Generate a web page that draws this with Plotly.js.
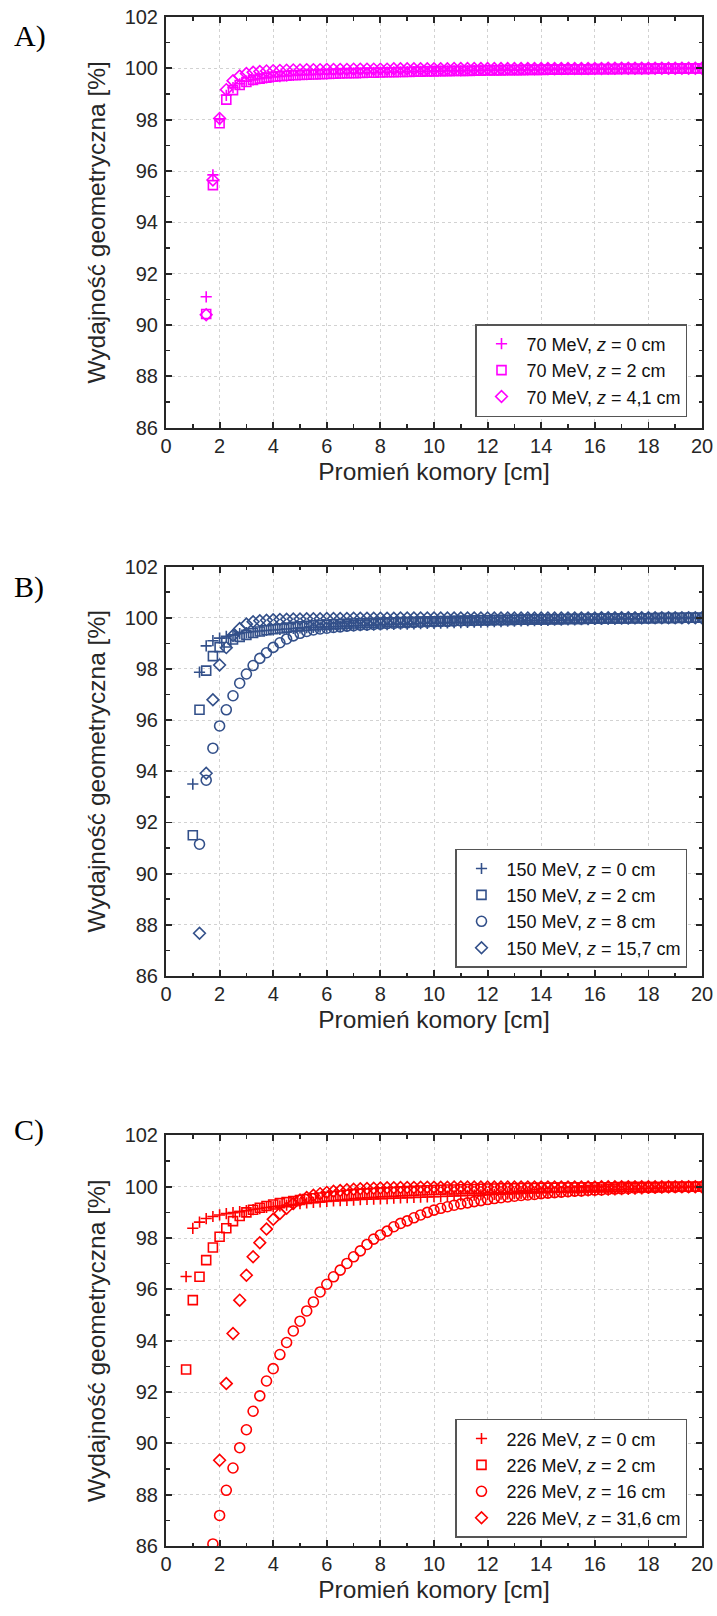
<!DOCTYPE html>
<html>
<head>
<meta charset="utf-8">
<script src="https://cdn.plot.ly/plotly-3.0.1.min.js"></script>
<style>html,body{margin:0;padding:0;background:#fff}#chart{width:717px;height:1616px}</style>
</head>
<body>
<div id="chart"></div>
<script>
// Promień komory [cm] – common sampling grid
const radius = [
  0.75,1,1.25,1.5,1.75,2,2.25,2.5,2.75,3,
  3.25,3.5,3.75,4,4.25,4.5,4.75,5,5.25,5.5,
  5.75,6,6.25,6.5,6.75,7,7.25,7.5,7.75,8,
  8.25,8.5,8.75,9,9.25,9.5,9.75,10,10.25,10.5,
  10.75,11,11.25,11.5,11.75,12,12.25,12.5,12.75,13,
  13.25,13.5,13.75,14,14.25,14.5,14.75,15,15.25,15.5,
  15.75,16,16.25,16.5,16.75,17,17.25,17.5,17.75,18,
  18.25,18.5,18.75,19,19.25,19.5,19.75,20
];

// Panel A – 70 MeV
const e70_z0 = [
  null,null,null,91.1,95.85,98.0,98.95,99.25,99.4,99.5,
  99.55,99.6,99.63,99.66,99.68,99.7,99.72,99.74,99.75,99.76,
  99.77,99.78,99.79,99.8,99.81,99.82,99.82,99.83,99.84,99.85,
  99.85,99.86,99.86,99.87,99.87,99.88,99.88,99.89,99.89,99.9,
  99.9,99.9,99.91,99.91,99.92,99.92,99.92,99.93,99.93,99.93,
  99.94,99.94,99.94,99.95,99.95,99.95,99.96,99.96,99.96,99.96,
  99.97,99.97,99.97,99.97,99.98,99.98,99.98,99.98,99.98,99.99,
  99.99,99.99,99.99,99.99,100,100,100,100
];
const e70_z2 = [
  null,null,null,90.43,95.45,97.86,98.78,99.15,99.35,99.47,
  99.55,99.6,99.64,99.67,99.69,99.71,99.73,99.74,99.75,99.76,
  99.77,99.78,99.79,99.8,99.81,99.81,99.82,99.83,99.83,99.84,
  99.85,99.85,99.86,99.86,99.87,99.87,99.88,99.88,99.89,99.89,
  99.9,99.9,99.9,99.91,99.91,99.92,99.92,99.92,99.93,99.93,
  99.93,99.94,99.94,99.94,99.95,99.95,99.95,99.96,99.96,99.96,
  99.96,99.97,99.97,99.97,99.97,99.98,99.98,99.98,99.98,99.98,
  99.99,99.99,99.99,99.99,99.99,100,100,100
];
const e70_z41 = [
  null,null,null,90.4,95.65,98.05,99.17,99.52,99.7,99.8,
  99.85,99.88,99.9,99.91,99.92,99.93,99.94,99.94,99.95,99.95,
  99.95,99.96,99.96,99.96,99.96,99.97,99.97,99.97,99.97,99.97,
  99.97,99.98,99.98,99.98,99.98,99.98,99.98,99.98,99.98,99.98,
  99.99,99.99,99.99,99.99,99.99,99.99,99.99,99.99,99.99,99.99,
  99.99,99.99,99.99,99.99,99.99,99.99,99.99,99.99,99.99,99.99,
  99.99,99.99,99.99,100,100,100,100,100,100,100,
  100,100,100,100,100,100,100,100
];

// Panel B – 150 MeV
const e150_z0 = [
  null,93.5,97.87,98.9,99.1,99.2,99.27,99.33,99.38,99.42,
  99.45,99.48,99.5,99.52,99.54,99.56,99.58,99.6,99.61,99.62,
  99.63,99.64,99.65,99.66,99.67,99.68,99.69,99.7,99.71,99.72,
  99.73,99.74,99.75,99.75,99.76,99.77,99.78,99.78,99.79,99.8,
  99.81,99.81,99.82,99.83,99.83,99.84,99.85,99.85,99.86,99.86,
  99.87,99.88,99.88,99.89,99.89,99.9,99.9,99.91,99.91,99.92,
  99.92,99.93,99.93,99.94,99.94,99.95,99.95,99.96,99.96,99.97,
  99.97,99.98,99.98,99.99,99.99,100,100,100
];
const e150_z2 = [
  null,91.5,96.4,97.93,98.5,98.85,99.03,99.15,99.25,99.33,
  99.4,99.46,99.51,99.55,99.58,99.61,99.64,99.66,99.68,99.7,
  99.72,99.73,99.74,99.75,99.76,99.77,99.78,99.79,99.8,99.81,
  99.82,99.82,99.83,99.84,99.84,99.85,99.86,99.86,99.87,99.87,
  99.88,99.88,99.89,99.89,99.9,99.9,99.91,99.91,99.91,99.92,
  99.92,99.93,99.93,99.93,99.94,99.94,99.94,99.95,99.95,99.95,
  99.96,99.96,99.96,99.97,99.97,99.97,99.98,99.98,99.98,99.98,
  99.99,99.99,99.99,99.99,100,100,100,100
];
const e150_z8 = [
  null,null,91.15,93.65,94.9,95.77,96.4,96.95,97.44,97.8,
  98.13,98.41,98.63,98.84,99.02,99.17,99.29,99.39,99.46,99.52,
  99.56,99.59,99.62,99.64,99.67,99.69,99.71,99.72,99.74,99.75,
  99.77,99.78,99.79,99.8,99.81,99.82,99.83,99.84,99.85,99.85,
  99.86,99.87,99.87,99.88,99.89,99.89,99.9,99.9,99.91,99.91,
  99.92,99.92,99.93,99.93,99.93,99.94,99.94,99.95,99.95,99.95,
  99.96,99.96,99.96,99.97,99.97,99.97,99.97,99.98,99.98,99.98,
  99.98,99.99,99.99,99.99,99.99,100,100,100
];
const e150_z157 = [
  null,null,87.67,93.92,96.79,98.15,98.83,99.3,99.58,99.75,
  99.84,99.88,99.9,99.92,99.93,99.94,99.95,99.95,99.96,99.96,
  99.96,99.97,99.97,99.97,99.97,99.98,99.98,99.98,99.98,99.98,
  99.98,99.98,99.99,99.99,99.99,99.99,99.99,99.99,99.99,99.99,
  99.99,99.99,99.99,99.99,99.99,99.99,99.99,99.99,99.99,99.99,
  99.99,99.99,99.99,99.99,99.99,99.99,99.99,99.99,99.99,99.99,
  99.99,99.99,100,100,100,100,100,100,100,100,
  100,100,100,100,100,100,100,100
];

// Panel C – 226 MeV
const e226_z0 = [
  96.5,98.38,98.62,98.76,98.84,98.9,98.95,98.99,99.03,99.07,
  99.11,99.15,99.19,99.22,99.25,99.28,99.31,99.34,99.37,99.39,
  99.41,99.43,99.45,99.46,99.47,99.48,99.5,99.51,99.52,99.53,
  99.54,99.55,99.56,99.57,99.58,99.59,99.6,99.61,99.62,99.63,
  99.64,99.65,99.66,99.67,99.68,99.69,99.7,99.71,99.72,99.73,
  99.74,99.75,99.76,99.77,99.78,99.79,99.8,99.81,99.82,99.83,
  99.84,99.85,99.86,99.87,99.88,99.89,99.9,99.91,99.92,99.93,
  99.94,99.95,99.96,99.97,99.98,99.99,100,100
];
const e226_z2 = [
  92.88,95.58,96.49,97.14,97.63,98.05,98.38,98.66,98.86,99.0,
  99.1,99.18,99.25,99.31,99.36,99.4,99.44,99.48,99.52,99.55,
  99.58,99.61,99.64,99.66,99.69,99.71,99.73,99.74,99.76,99.78,
  99.79,99.8,99.82,99.83,99.84,99.85,99.86,99.87,99.88,99.89,
  99.89,99.9,99.91,99.91,99.92,99.93,99.93,99.94,99.94,99.94,
  99.95,99.95,99.95,99.96,99.96,99.96,99.97,99.97,99.97,99.97,
  99.98,99.98,99.98,99.98,99.98,99.99,99.99,99.99,99.99,99.99,
  99.99,99.99,100,100,100,100,100,100
];
const e226_z16 = [
  null,null,null,null,86.08,87.19,88.17,89.04,89.83,90.53,
  91.25,91.85,92.43,92.91,93.46,93.93,94.38,94.76,95.16,95.51,
  95.9,96.2,96.49,96.75,97.01,97.27,97.5,97.75,97.96,98.12,
  98.27,98.44,98.57,98.67,98.79,98.9,99.0,99.09,99.16,99.22,
  99.28,99.33,99.37,99.42,99.46,99.5,99.54,99.57,99.6,99.63,
  99.66,99.68,99.7,99.73,99.75,99.77,99.79,99.81,99.83,99.84,
  99.86,99.87,99.88,99.9,99.91,99.92,99.93,99.94,99.95,99.96,
  99.96,99.97,99.98,99.98,99.99,99.99,100,100
];
const e226_z316 = [
  null,null,null,null,null,89.34,92.33,94.28,95.58,96.55,
  97.27,97.82,98.35,98.73,98.96,99.16,99.35,99.48,99.58,99.67,
  99.73,99.78,99.82,99.85,99.88,99.9,99.92,99.93,99.94,99.95,
  99.96,99.96,99.97,99.97,99.97,99.98,99.98,99.98,99.98,99.98,
  99.99,99.99,99.99,99.99,99.99,99.99,99.99,99.99,99.99,99.99,
  99.99,99.99,99.99,99.99,99.99,99.99,99.99,99.99,99.99,99.99,
  99.99,99.99,100,100,100,100,100,100,100,100,
  100,100,100,100,100,100,100,100
];

const xTickVals = [0,2,4,6,8,10,12,14,16,18,20];
const yTickVals = [86,88,90,92,94,96,98,100,102];
const xAxisTitle = 'Promień komory [cm]';
const yAxisTitle = 'Wydajność geometryczna [%]';
const panelLabels = ['A)', 'B)', 'C)'];

const MAGENTA = '#ff00ff', NAVY = '#33508a', RED = '#ff0000';
const SYM = {plus: 'cross-thin-open', square: 'square-open', circle: 'circle-open', diamond: 'diamond-open'};
const SIZE = {plus: 8, square: 9, circle: 10, diamond: 9};

function tr(y, name, color, sym, axis, legend) {
  return {
    x: radius, y: y, name: name, type: 'scatter', mode: 'markers',
    xaxis: 'x' + axis, yaxis: 'y' + axis, legend: legend,
    marker: {symbol: SYM[sym], size: SIZE[sym], color: color, line: {color: color, width: 1.6}}
  };
}

const data = [
  tr(e70_z0, '70 MeV, <i>z</i> = 0 cm', MAGENTA, 'plus', '', 'legend'),
  tr(e70_z2, '70 MeV, <i>z</i> = 2 cm', MAGENTA, 'square', '', 'legend'),
  tr(e70_z41, '70 MeV, <i>z</i> = 4,1 cm', MAGENTA, 'diamond', '', 'legend'),
  tr(e150_z0, '150 MeV, <i>z</i> = 0 cm', NAVY, 'plus', '2', 'legend2'),
  tr(e150_z2, '150 MeV, <i>z</i> = 2 cm', NAVY, 'square', '2', 'legend2'),
  tr(e150_z8, '150 MeV, <i>z</i> = 8 cm', NAVY, 'circle', '2', 'legend2'),
  tr(e150_z157, '150 MeV, <i>z</i> = 15,7 cm', NAVY, 'diamond', '2', 'legend2'),
  tr(e226_z0, '226 MeV, <i>z</i> = 0 cm', RED, 'plus', '3', 'legend3'),
  tr(e226_z2, '226 MeV, <i>z</i> = 2 cm', RED, 'square', '3', 'legend3'),
  tr(e226_z16, '226 MeV, <i>z</i> = 16 cm', RED, 'circle', '3', 'legend3'),
  tr(e226_z316, '226 MeV, <i>z</i> = 31,6 cm', RED, 'diamond', '3', 'legend3')
];

const W = 717, H = 1616, ML = 166, MR = 15, MT = 17, MB = 70;
const PH = H - MT - MB, PW = W - ML - MR;
const py = v => 1 - (v - MT) / PH;
const px = v => (v - ML) / PW;
const domains = [[py(427.7), 1], [py(976), py(566.5)], [0, py(1135.4)]];

const AX = '#262626';
const FAM = 'Liberation Sans, Arial, sans-serif';
const tickFont = {family: FAM, size: 20, color: AX};
const titleFont = {family: FAM, size: 24.5, color: AX};

function common() {
  return {
    ticks: 'inside', ticklen: 6, tickwidth: 1.8, tickcolor: AX,
    minor: {dtick: 1, ticks: 'inside', ticklen: 3.5, tickwidth: 1.5, tickcolor: AX, showgrid: false},
    showline: true, linecolor: AX, linewidth: 2, mirror: 'ticks',
    showgrid: true, gridcolor: '#d2d2d2', gridwidth: 1, griddash: 'dot',
    zeroline: false, tickfont: tickFont, automargin: false
  };
}
function xax(i) {
  return Object.assign(common(), {
    domain: [0, 1], range: [0, 20], anchor: 'y' + (i ? i + 1 : ''),
    tickvals: xTickVals, ticklabelstandoff: -1,
    title: {text: xAxisTitle, font: titleFont, standoff: 7}
  });
}
function yax(i) {
  return Object.assign(common(), {
    domain: domains[i], range: [86, 102], anchor: 'x' + (i ? i + 1 : ''),
    tickvals: yTickVals, ticklabelstandoff: 2,
    title: {text: yAxisTitle, font: titleFont, standoff: 12}
  });
}
function leg(right, middle) {
  return {
    x: px(right), y: py(middle), xanchor: 'right', yanchor: 'middle',
    bgcolor: '#ffffff', bordercolor: '#555555', borderwidth: 1.5,
    font: {family: FAM, size: 18, color: '#111'},
    tracegroupgap: 0, itemwidth: 40
  };
}

const layout = {
  width: W, height: H,
  margin: {l: ML, r: MR, t: MT, b: MB},
  paper_bgcolor: '#ffffff', plot_bgcolor: '#ffffff',
  showlegend: true,
  xaxis: xax(0), xaxis2: xax(1), xaxis3: xax(2),
  yaxis: yax(0), yaxis2: yax(1), yaxis3: yax(2),
  legend: leg(687, 370.5),
  legend2: leg(687, 908.3),
  legend3: leg(687, 1478.3),
  annotations: panelLabels.map((t, i) => ({
    text: t, xref: 'paper', yref: 'paper', x: px(12), y: py([36, 587, 1130][i]),
    xanchor: 'left', yanchor: 'middle', showarrow: false,
    font: {family: 'Liberation Serif, Times New Roman, serif', size: 30, color: '#000'}
  }))
};

Plotly.newPlot('chart', data, layout, {displayModeBar: false, staticPlot: true});
</script>
</body>
</html>
